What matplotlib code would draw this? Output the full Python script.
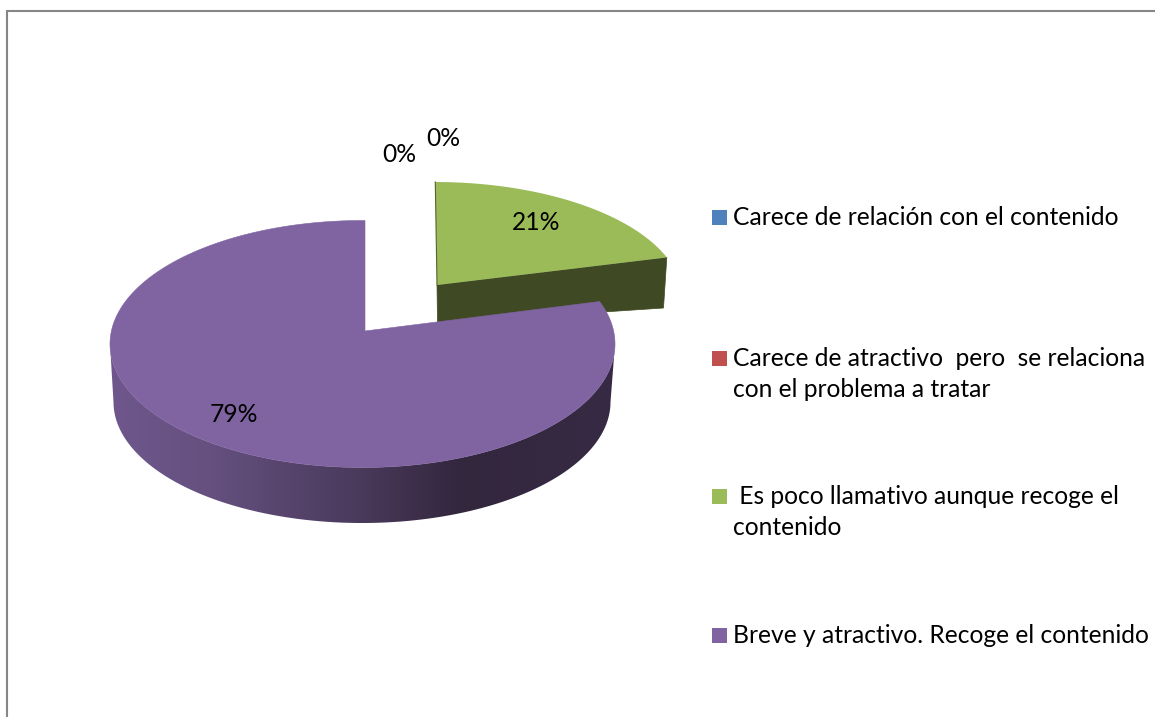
import numpy as np
import matplotlib
matplotlib.use("Agg")
import matplotlib.pyplot as plt
from matplotlib.patches import Polygon, Rectangle
from matplotlib.colors import LinearSegmentedColormap

categories = ["Carece de relación con el contenido",
              "Carece de atractivo  pero  se relaciona\ncon el problema a tratar",
              " Es poco llamativo aunque recoge el\ncontenido",
              "Breve y atractivo. Recoge el contenido"]
values = [0, 0, 21, 79]
colors = ["#4F81BD", "#C0504D", "#9BBB59", "#8064A2"]
FONT = "Lato"
FS = 17.7

W, H = 1155, 717
fig = plt.figure(figsize=(W/100, H/100), dpi=100, facecolor="white")
ax = fig.add_axes([0, 0, 1, 1])
ax.set_xlim(0, W); ax.set_ylim(H, 0); ax.axis("off")

# frame
ax.plot([6.5, 6.5, W], [H, 10.5, 10.5], color="#868686", lw=1.5, solid_joinstyle="miter")

def ray_point(apex, c, rx, ry, theta):
    """Where a ray from the apex at pie angle theta (deg, clockwise from top) hits the ellipse."""
    th = np.radians(theta)
    dx, dy = rx*np.sin(th), -ry*np.cos(th)
    ax0, ay0 = (apex[0]-c[0])/rx, (apex[1]-c[1])/ry
    ddx, ddy = dx/rx, dy/ry
    a = ddx**2 + ddy**2
    b = 2*(ax0*ddx + ay0*ddy)
    cc = ax0**2 + ay0**2 - 1
    t = (-b + np.sqrt(b*b - 4*a*cc))/(2*a)
    return apex[0] + t*dx, apex[1] + t*dy

def arc(apex, c, rx, ry, a0, a1, n=200):
    pts = [ray_point(apex, c, rx, ry, a) for a in np.linspace(a0, a1, n)]
    return np.array(pts)

ang = np.cumsum([0] + values) * 3.6
green0, green1 = ang[2], ang[3]
purple0, purple1 = ang[3], ang[4]

# green slice, pulled out
g_apex = (437, 285)
g_c = (434.5, 298)
g_rx, g_ry = 248, 116
g_arc = arc(g_apex, g_c, g_rx, g_ry, green0, green1)
g_end = g_arc[-1]
ax.add_patch(Polygon([g_apex, g_end, (663.5, 308), (437.5, 323)], closed=True, fc="#3F4A24", ec="#3F4A24", lw=0.5, zorder=2))
ax.add_patch(Polygon(np.vstack([[g_apex], [(435.3, 182)], g_arc]), closed=True, fc=colors[2], ec="none", zorder=3))
ax.plot([435.3, 437], [182, 285], color="#55632F", lw=0.8, zorder=3)

# purple slice wall
p_apex = (365, 331)
p_c = (362.5, 344)
p_rx, p_ry = 252.5, 123.5
t = np.linspace(0, np.pi, 300)
top_lower = np.column_stack([p_c[0] + p_rx*np.cos(t), p_c[1] + p_ry*np.sin(t)])
b_c = (362, 402); b_rx, b_ry = 248.5, 121
bot = np.column_stack([b_c[0] + b_rx*np.cos(t[::-1]), b_c[1] + b_ry*np.sin(t[::-1])])
wall = Polygon(np.vstack([top_lower, bot]), closed=True, fc="none", ec="none")
ax.add_patch(wall)
cm = LinearSegmentedColormap.from_list("w", [(0, "#6F578D"), (0.2, "#65507F"), (0.49, "#4A3A5C"),
                                             (0.69, "#33273E"), (1, "#372A44")])
im = ax.imshow(np.linspace(0, 1, 256)[None, :], extent=(108, 617, 540, 330), cmap=cm, aspect="auto", zorder=4)
im.set_clip_path(wall)
ax.set_xlim(0, W); ax.set_ylim(H, 0)

p_arc = arc(p_apex, p_c, p_rx, p_ry, purple0, purple1, 500)
ax.add_patch(Polygon(np.vstack([[p_apex], p_arc]), closed=True, fc=colors[3], ec=colors[3], lw=0.4, zorder=5))

# percent labels
total = sum(values)
pct_pos = [(399, 155), (443, 138), (536, 223), (234, 415)]
for v, (x, y) in zip(values, pct_pos):
    ax.text(x, y, f"{round(100*v/total)}%", ha="center", va="center", family=FONT, fontsize=FS, color="black", zorder=6)

# legend
leg_y = [217, 358, 496, 635]
for lab, c, y in zip(categories, colors, leg_y):
    ax.add_patch(Rectangle((712, y-7.5), 15, 15, fc=c, ec="none"))
    ax.text(733, y - 11, lab, ha="left", va="top", family=FONT, fontsize=FS, color="black", linespacing=1.42)

fig.savefig("out.png", dpi=100, facecolor="white")
